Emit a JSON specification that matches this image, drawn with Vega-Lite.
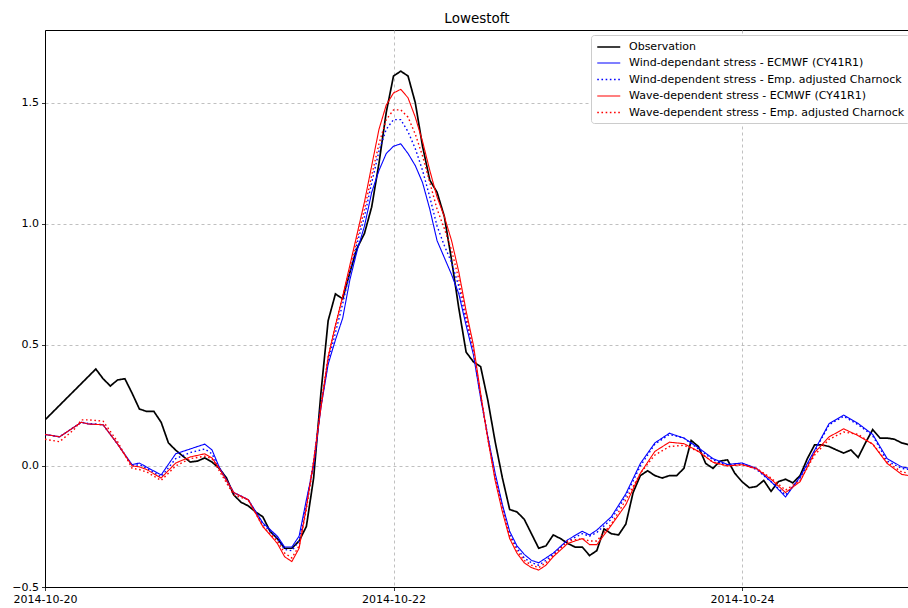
{
  "$schema": "https://vega.github.io/schema/vega-lite/v6.json",
  "width": 864,
  "height": 557,
  "autosize": "none",
  "padding": {"left": 45, "top": 30, "right": 0, "bottom": 21},
  "background": "white",
  "config": {
    "font": "DejaVu Sans",
    "view": {"stroke": "black", "strokeWidth": 1},
    "legend": {
      "title": null, "orient": "none", "legendX": 546, "legendY": 5,
      "fillColor": "white", "strokeColor": "#cccccc", "cornerRadius": 3, "padding": 5,
      "symbolType": "M-1,0H3", "symbolSize": 132.25, "labelFontSize": 11, "labelFont": "DejaVu Sans", "labelColor": "black",
      "labelOffset": 19, "rowPadding": 4.5, "labelLimit": 0
    }
  },
  "title": {"text": "Lowestoft", "fontSize": 13.5, "fontWeight": "normal", "anchor": "middle", "offset": 5, "color": "black", "font": "DejaVu Sans"},
  "data": {"values": [
    {"t": "2014-10-20T00:00", "obs": 0.19, "wind": 0.13, "windc": 0.13, "wave": 0.13, "wavec": 0.11},
    {"t": "2014-10-20T02:00", "wind": 0.12, "windc": 0.12, "wave": 0.12, "wavec": 0.10},
    {"t": "2014-10-20T04:00", "wind": 0.16, "windc": 0.16, "wave": 0.16, "wavec": 0.15},
    {"t": "2014-10-20T05:00", "wind": 0.18, "windc": 0.18, "wave": 0.18, "wavec": 0.19},
    {"t": "2014-10-20T06:00", "wind": 0.173, "windc": 0.175, "wave": 0.173, "wavec": 0.19},
    {"t": "2014-10-20T07:00", "obs": 0.40},
    {"t": "2014-10-20T08:00", "obs": 0.36, "wind": 0.17, "windc": 0.17, "wave": 0.17, "wavec": 0.185},
    {"t": "2014-10-20T09:00", "obs": 0.33},
    {"t": "2014-10-20T10:00", "obs": 0.355, "wind": 0.09, "windc": 0.09, "wave": 0.09, "wavec": 0.10},
    {"t": "2014-10-20T11:00", "obs": 0.36},
    {"t": "2014-10-20T12:00", "obs": 0.30, "wind": 0.005, "windc": 0.0, "wave": 0.0, "wavec": -0.01},
    {"t": "2014-10-20T13:00", "obs": 0.235, "wind": 0.012, "windc": 0.005, "wave": -0.004, "wavec": -0.015},
    {"t": "2014-10-20T14:00", "obs": 0.225, "wind": -0.005, "windc": -0.01, "wave": -0.015, "wavec": -0.025},
    {"t": "2014-10-20T15:00", "obs": 0.225},
    {"t": "2014-10-20T16:00", "obs": 0.18, "wind": -0.037, "windc": -0.045, "wave": -0.05, "wavec": -0.06},
    {"t": "2014-10-20T17:00", "obs": 0.095},
    {"t": "2014-10-20T18:00", "obs": 0.065, "wind": 0.05, "windc": 0.03, "wave": 0.012, "wavec": 0.0},
    {"t": "2014-10-20T19:00", "obs": 0.04},
    {"t": "2014-10-20T20:00", "obs": 0.016, "wind": 0.07, "windc": 0.055, "wave": 0.037, "wavec": 0.03},
    {"t": "2014-10-20T21:00", "obs": 0.02},
    {"t": "2014-10-20T22:00", "obs": 0.033, "wind": 0.09, "windc": 0.07, "wave": 0.05, "wavec": 0.04},
    {"t": "2014-10-20T23:00", "obs": 0.016, "wind": 0.066, "windc": 0.05, "wave": 0.033, "wavec": 0.03},
    {"t": "2014-10-21T00:00", "obs": -0.01, "wind": -0.005, "windc": -0.01, "wave": -0.01, "wavec": -0.02},
    {"t": "2014-10-21T01:00", "obs": -0.05},
    {"t": "2014-10-21T02:00", "obs": -0.12, "wind": -0.11, "windc": -0.11, "wave": -0.11, "wavec": -0.12},
    {"t": "2014-10-21T03:00", "obs": -0.15},
    {"t": "2014-10-21T04:00", "obs": -0.165, "wind": -0.14, "windc": -0.14, "wave": -0.14, "wavec": -0.14},
    {"t": "2014-10-21T05:00", "obs": -0.19},
    {"t": "2014-10-21T06:00", "obs": -0.21, "wind": -0.235, "windc": -0.24, "wave": -0.25, "wavec": -0.25},
    {"t": "2014-10-21T07:00", "obs": -0.27},
    {"t": "2014-10-21T08:00", "obs": -0.30, "wind": -0.29, "windc": -0.30, "wave": -0.32, "wavec": -0.31},
    {"t": "2014-10-21T09:00", "obs": -0.34, "wind": -0.335, "windc": -0.345, "wave": -0.375, "wavec": -0.36},
    {"t": "2014-10-21T10:00", "obs": -0.34, "wind": -0.335, "windc": -0.35, "wave": -0.395, "wavec": -0.38},
    {"t": "2014-10-21T11:00", "obs": -0.31, "wind": -0.29, "windc": -0.31, "wave": -0.34, "wavec": -0.33},
    {"t": "2014-10-21T12:00", "obs": -0.25, "wind": -0.14, "windc": -0.16, "wave": -0.17, "wavec": -0.18},
    {"t": "2014-10-21T13:00", "obs": -0.05, "wind": 0.0, "windc": 0.02, "wave": 0.02, "wavec": 0.01},
    {"t": "2014-10-21T14:00", "obs": 0.30, "wind": 0.24, "windc": 0.25, "wave": 0.24, "wavec": 0.25},
    {"t": "2014-10-21T15:00", "obs": 0.60, "wind": 0.42, "windc": 0.43, "wave": 0.45, "wavec": 0.45},
    {"t": "2014-10-21T16:00", "obs": 0.71, "wind": 0.52, "windc": 0.55, "wave": 0.58, "wavec": 0.58},
    {"t": "2014-10-21T17:00", "obs": 0.69, "wind": 0.61, "windc": 0.67, "wave": 0.70, "wavec": 0.70},
    {"t": "2014-10-21T18:00", "obs": 0.80, "wind": 0.77, "windc": 0.80, "wave": 0.83, "wavec": 0.82},
    {"t": "2014-10-21T19:00", "obs": 0.90, "wind": 0.89, "windc": 0.92, "wave": 0.96, "wavec": 0.94},
    {"t": "2014-10-21T20:00", "obs": 0.96, "wind": 0.99, "windc": 1.03, "wave": 1.09, "wavec": 1.06},
    {"t": "2014-10-21T21:00", "obs": 1.07, "wind": 1.13, "windc": 1.17, "wave": 1.24, "wavec": 1.20},
    {"t": "2014-10-21T22:00", "obs": 1.25, "wind": 1.22, "windc": 1.30, "wave": 1.39, "wavec": 1.33},
    {"t": "2014-10-21T23:00", "obs": 1.46, "wind": 1.29, "windc": 1.39, "wave": 1.49, "wavec": 1.43},
    {"t": "2014-10-22T00:00", "obs": 1.61, "wind": 1.32, "windc": 1.43, "wave": 1.54, "wavec": 1.47},
    {"t": "2014-10-22T01:00", "obs": 1.63, "wind": 1.33, "windc": 1.43, "wave": 1.555, "wavec": 1.47},
    {"t": "2014-10-22T02:00", "obs": 1.61, "wind": 1.29, "windc": 1.38, "wave": 1.52, "wavec": 1.44},
    {"t": "2014-10-22T03:00", "obs": 1.50, "wind": 1.24, "windc": 1.31, "wave": 1.44, "wavec": 1.37},
    {"t": "2014-10-22T04:00", "obs": 1.32, "wind": 1.17, "windc": 1.22, "wave": 1.34, "wavec": 1.28},
    {"t": "2014-10-22T05:00", "obs": 1.18, "wind": 1.06, "windc": 1.11, "wave": 1.22, "wavec": 1.17},
    {"t": "2014-10-22T06:00", "obs": 1.13, "wind": 0.93, "windc": 0.99, "wave": 1.11, "wavec": 1.06},
    {"t": "2014-10-22T07:00", "obs": 1.03, "wind": 0.86, "windc": 0.91, "wave": 1.03, "wavec": 0.98},
    {"t": "2014-10-22T08:00", "obs": 0.85, "wind": 0.79, "windc": 0.84, "wave": 0.93, "wavec": 0.89},
    {"t": "2014-10-22T09:00", "obs": 0.65, "wind": 0.71, "windc": 0.74, "wave": 0.80, "wavec": 0.77},
    {"t": "2014-10-22T10:00", "obs": 0.47, "wind": 0.58, "windc": 0.60, "wave": 0.64, "wavec": 0.62},
    {"t": "2014-10-22T11:00", "obs": 0.43, "wind": 0.46, "windc": 0.47, "wave": 0.50, "wavec": 0.48},
    {"t": "2014-10-22T12:00", "obs": 0.41, "wind": 0.28, "windc": 0.29, "wave": 0.30, "wavec": 0.29},
    {"t": "2014-10-22T13:00", "obs": 0.27, "wind": 0.12, "windc": 0.12, "wave": 0.11, "wavec": 0.11},
    {"t": "2014-10-22T14:00", "obs": 0.10, "wind": -0.03, "windc": -0.04, "wave": -0.06, "wavec": -0.05},
    {"t": "2014-10-22T15:00", "obs": -0.05, "wind": -0.16, "windc": -0.17, "wave": -0.19, "wavec": -0.18},
    {"t": "2014-10-22T16:00", "obs": -0.18, "wind": -0.27, "windc": -0.28, "wave": -0.30, "wavec": -0.29},
    {"t": "2014-10-22T17:00", "obs": -0.19, "wind": -0.33, "windc": -0.34, "wave": -0.36, "wavec": -0.35},
    {"t": "2014-10-22T18:00", "obs": -0.22, "wind": -0.365, "windc": -0.38, "wave": -0.40, "wavec": -0.39},
    {"t": "2014-10-22T19:00", "obs": -0.28, "wind": -0.39, "windc": -0.40, "wave": -0.42, "wavec": -0.41},
    {"t": "2014-10-22T20:00", "obs": -0.34, "wind": -0.40, "windc": -0.41, "wave": -0.43, "wavec": -0.42},
    {"t": "2014-10-22T21:00", "obs": -0.33, "wind": -0.38, "windc": -0.39, "wave": -0.41, "wavec": -0.40},
    {"t": "2014-10-22T22:00", "obs": -0.285, "wind": -0.36, "windc": -0.365, "wave": -0.375, "wavec": -0.37},
    {"t": "2014-10-22T23:00", "obs": -0.30},
    {"t": "2014-10-23T00:00", "obs": -0.32, "wind": -0.305, "windc": -0.31, "wave": -0.32, "wavec": -0.31},
    {"t": "2014-10-23T01:00", "obs": -0.335},
    {"t": "2014-10-23T02:00", "obs": -0.335, "wind": -0.27, "windc": -0.28, "wave": -0.30, "wavec": -0.30},
    {"t": "2014-10-23T03:00", "obs": -0.37, "wind": -0.285, "windc": -0.29, "wave": -0.325, "wavec": -0.31},
    {"t": "2014-10-23T04:00", "obs": -0.35, "wind": -0.265, "windc": -0.275, "wave": -0.325, "wavec": -0.31},
    {"t": "2014-10-23T05:00", "obs": -0.26},
    {"t": "2014-10-23T06:00", "obs": -0.28, "wind": -0.21, "windc": -0.22, "wave": -0.245, "wavec": -0.24},
    {"t": "2014-10-23T07:00", "obs": -0.285},
    {"t": "2014-10-23T08:00", "obs": -0.24, "wind": -0.115, "windc": -0.125, "wave": -0.16, "wavec": -0.14},
    {"t": "2014-10-23T09:00", "obs": -0.11},
    {"t": "2014-10-23T10:00", "obs": -0.04, "wind": 0.01, "windc": 0.0, "wave": -0.03, "wavec": -0.03},
    {"t": "2014-10-23T11:00", "obs": -0.02},
    {"t": "2014-10-23T12:00", "obs": -0.04, "wind": 0.095, "windc": 0.09, "wave": 0.06, "wavec": 0.045},
    {"t": "2014-10-23T13:00", "obs": -0.05},
    {"t": "2014-10-23T14:00", "obs": -0.04, "wind": 0.135, "windc": 0.13, "wave": 0.098, "wavec": 0.08},
    {"t": "2014-10-23T15:00", "obs": -0.04},
    {"t": "2014-10-23T16:00", "obs": -0.01, "wind": 0.115, "windc": 0.115, "wave": 0.092, "wavec": 0.085},
    {"t": "2014-10-23T17:00", "obs": 0.105},
    {"t": "2014-10-23T18:00", "obs": 0.08, "wind": 0.075, "windc": 0.07, "wave": 0.06, "wavec": 0.06},
    {"t": "2014-10-23T19:00", "obs": 0.01},
    {"t": "2014-10-23T20:00", "obs": -0.01, "wind": 0.03, "windc": 0.025, "wave": 0.015, "wavec": 0.015},
    {"t": "2014-10-23T21:00", "obs": 0.02},
    {"t": "2014-10-23T22:00", "obs": 0.025, "wind": 0.006, "windc": 0.003, "wave": 0.0, "wavec": 0.0},
    {"t": "2014-10-23T23:00", "obs": -0.03},
    {"t": "2014-10-24T00:00", "obs": -0.065, "wind": 0.012, "windc": 0.01, "wave": 0.005, "wavec": 0.005},
    {"t": "2014-10-24T01:00", "obs": -0.09},
    {"t": "2014-10-24T02:00", "obs": -0.085, "wind": -0.01, "windc": -0.015, "wave": -0.012, "wavec": -0.01},
    {"t": "2014-10-24T03:00", "obs": -0.06},
    {"t": "2014-10-24T04:00", "obs": -0.105, "wind": -0.065, "windc": -0.065, "wave": -0.055, "wavec": -0.05},
    {"t": "2014-10-24T05:00", "obs": -0.065},
    {"t": "2014-10-24T06:00", "obs": -0.055, "wind": -0.128, "windc": -0.12, "wave": -0.11, "wavec": -0.10},
    {"t": "2014-10-24T07:00", "obs": -0.07},
    {"t": "2014-10-24T08:00", "obs": -0.04, "wind": -0.045, "windc": -0.05, "wave": -0.065, "wavec": -0.06},
    {"t": "2014-10-24T09:00", "obs": 0.03},
    {"t": "2014-10-24T10:00", "obs": 0.087, "wind": 0.065, "windc": 0.06, "wave": 0.055, "wavec": 0.045},
    {"t": "2014-10-24T11:00", "obs": 0.087},
    {"t": "2014-10-24T12:00", "obs": 0.08, "wind": 0.175, "windc": 0.17, "wave": 0.12, "wavec": 0.11},
    {"t": "2014-10-24T13:00", "obs": 0.066},
    {"t": "2014-10-24T14:00", "obs": 0.053, "wind": 0.21, "windc": 0.205, "wave": 0.153, "wavec": 0.14},
    {"t": "2014-10-24T15:00", "obs": 0.066},
    {"t": "2014-10-24T16:00", "obs": 0.035, "wind": 0.175, "windc": 0.17, "wave": 0.125, "wavec": 0.13},
    {"t": "2014-10-24T17:00", "obs": 0.095},
    {"t": "2014-10-24T18:00", "obs": 0.15, "wind": 0.13, "windc": 0.125, "wave": 0.09, "wavec": 0.09},
    {"t": "2014-10-24T19:00", "obs": 0.115},
    {"t": "2014-10-24T20:00", "obs": 0.115, "wind": 0.03, "windc": 0.02, "wave": 0.01, "wavec": 0.015},
    {"t": "2014-10-24T21:00", "obs": 0.11},
    {"t": "2014-10-24T22:00", "obs": 0.095, "wind": -0.004, "windc": -0.01, "wave": -0.035, "wavec": -0.025},
    {"t": "2014-10-24T23:00", "obs": 0.087, "wind": -0.01, "windc": -0.015, "wave": -0.04, "wavec": -0.03}
  ]},
  "transform": [
    {"fold": ["obs", "wind", "windc", "wave", "wavec"], "as": ["s", "v"]},
    {"filter": "isValid(datum.v)"}
  ],
  "mark": {"type": "line", "clip": true},
  "encoding": {
    "x": {
      "field": "t", "type": "temporal",
      "scale": {"domain": [{"year": 2014, "month": 10, "date": 20}, {"year": 2014, "month": 10, "date": 24, "hours": 23}]},
      "axis": {
        "title": null,
        "values": [{"year": 2014, "month": 10, "date": 20}, {"year": 2014, "month": 10, "date": 22}, {"year": 2014, "month": 10, "date": 24}],
        "format": "%Y-%m-%d",
        "labelFont": "DejaVu Sans", "labelFontSize": 11, "labelColor": "black",
        "labelPadding": 3, "labelFlush": false, "labelOverlap": false,
        "tickColor": "black", "tickSize": 3.5, "tickWidth": 0.8,
        "domainColor": "black", "domainWidth": 1,
        "grid": true, "gridDash": [3, 3], "gridColor": "#b0b0b0", "gridWidth": 0.8
      }
    },
    "y": {
      "field": "v", "type": "quantitative",
      "scale": {"domain": [-0.5, 1.8], "nice": false, "zero": false},
      "axis": {
        "title": null,
        "values": [-0.5, 0, 0.5, 1, 1.5],
        "labelExpr": "replace(format(datum.value, '.1f'), '-', '\u2212')",
        "labelFont": "DejaVu Sans", "labelFontSize": 11, "labelColor": "black",
        "labelPadding": 3,
        "tickColor": "black", "tickSize": 3.5, "tickWidth": 0.8,
        "domainColor": "black", "domainWidth": 1,
        "grid": true, "gridDash": [3, 3], "gridColor": "#b0b0b0", "gridWidth": 0.8
      }
    },
    "color": {
      "field": "s", "type": "nominal",
      "scale": {"domain": ["obs", "wind", "windc", "wave", "wavec"], "range": ["#000000", "#0000ff", "#0000ff", "#ff0000", "#ff0000"]},
      "legend": {
        "labelExpr": "datum.label == 'obs' ? 'Observation' : datum.label == 'wind' ? 'Wind-dependant stress - ECMWF (CY41R1)' : datum.label == 'windc' ? 'Wind-dependent stress - Emp. adjusted Charnock' : datum.label == 'wave' ? 'Wave-dependent stress - ECMWF (CY41R1)' : 'Wave-dependent stress - Emp. adjusted Charnock'"
      }
    },
    "strokeDash": {
      "field": "s", "type": "nominal",
      "scale": {"domain": ["obs", "wind", "windc", "wave", "wavec"], "range": [[1, 0], [1, 0], [1.6, 2.6], [1, 0], [1.6, 2.6]]},
      "legend": {
        "labelExpr": "datum.label == 'obs' ? 'Observation' : datum.label == 'wind' ? 'Wind-dependant stress - ECMWF (CY41R1)' : datum.label == 'windc' ? 'Wind-dependent stress - Emp. adjusted Charnock' : datum.label == 'wave' ? 'Wave-dependent stress - ECMWF (CY41R1)' : 'Wave-dependent stress - Emp. adjusted Charnock'"
      }
    },
    "strokeWidth": {
      "field": "s", "type": "nominal",
      "scale": {"type": "ordinal", "domain": ["obs", "wind", "windc", "wave", "wavec"], "range": [1.7, 1.1, 1.4, 1.1, 1.4]},
      "legend": {
        "labelExpr": "datum.label == 'obs' ? 'Observation' : datum.label == 'wind' ? 'Wind-dependant stress - ECMWF (CY41R1)' : datum.label == 'windc' ? 'Wind-dependent stress - Emp. adjusted Charnock' : datum.label == 'wave' ? 'Wave-dependent stress - ECMWF (CY41R1)' : 'Wave-dependent stress - Emp. adjusted Charnock'"
      }
    }
  }
}
